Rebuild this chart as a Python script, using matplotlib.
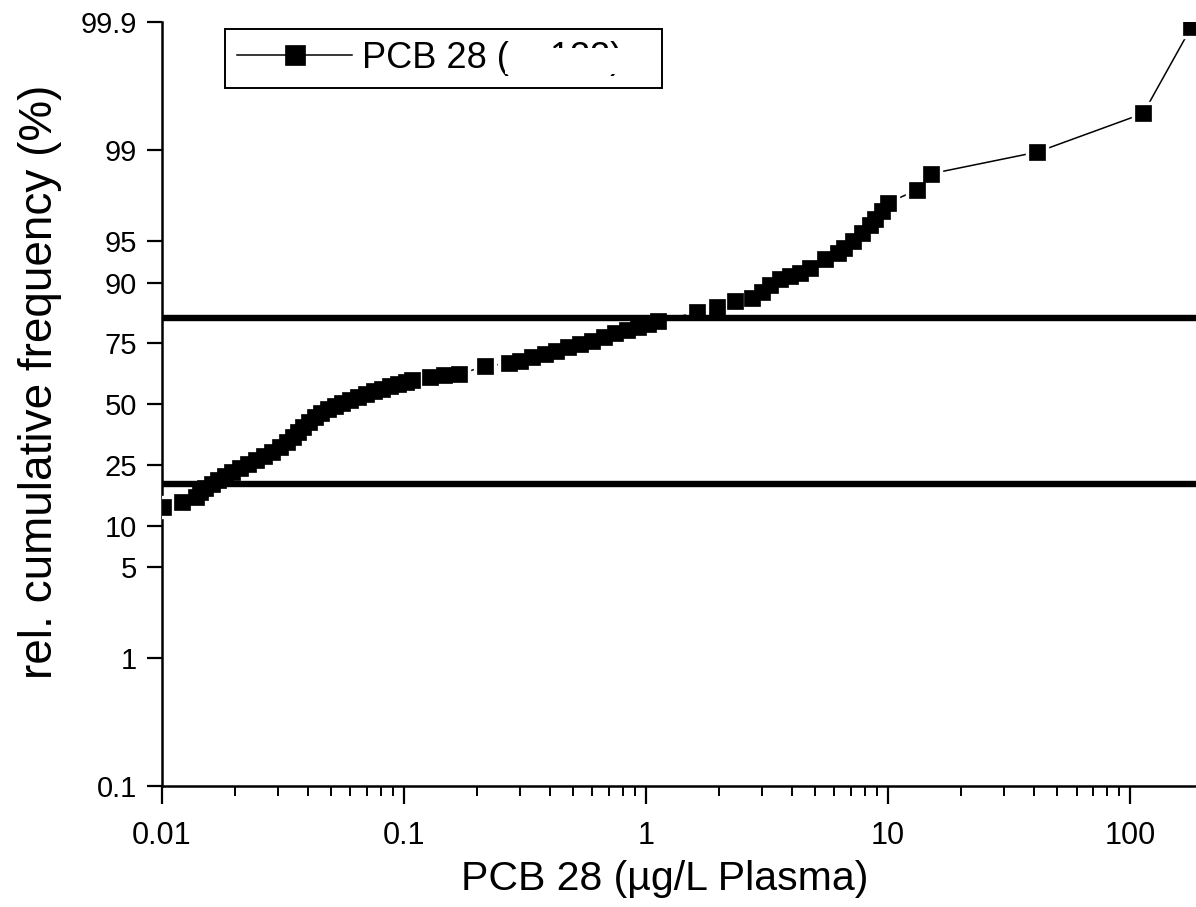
import matplotlib.pyplot as plt
from matplotlib.patches import Rectangle
from matplotlib.ticker import (FixedFormatter, FixedLocator, LogLocator,
                               NullFormatter, NullLocator)

plt.rcParams['font.family'] = ['Liberation Sans', 'DejaVu Sans']

# PCB 28 concentration (ug/L plasma) and relative cumulative frequency (%)
conc = [0.01009, 0.0121, 0.01382, 0.01436,
        0.01505, 0.01609, 0.01703, 0.01821, 0.01947, 0.02101, 0.02267, 0.02446,
        0.02639, 0.02848, 0.03073, 0.03285, 0.03478, 0.03648, 0.03825, 0.0405,
        0.04288, 0.0454, 0.04853, 0.05187, 0.05545, 0.05984, 0.06455, 0.06966,
        0.07516, 0.08111, 0.08752, 0.09445, 0.1019, 0.1079,
        0.1281, 0.1463, 0.1688, 0.2161,
        0.2716, 0.3016, 0.338, 0.3824, 0.4247, 0.4762, 0.5339, 0.5984, 0.6706,
        0.7446, 0.8346, 0.9267, 1.019, 1.121,
        1.624, 1.966, 2.333, 2.742, 3.015, 3.253, 3.578, 3.936, 4.328, 4.761,
        5.492, 6.215, 6.58, 7.169, 7.809, 8.427, 8.838, 9.445, 10.0,
        13.18, 15.06, 41.28, 113.2, 178.7]
cum_freq = [13.52, 14.60, 15.77, 17.00,
            18.04, 19.13, 20.28, 21.46, 22.70, 23.99, 25.33, 26.72,
            28.15, 29.63, 31.55, 33.53, 35.56, 37.65, 39.79, 41.96,
            44.17, 45.96, 47.75, 49.10, 50.45, 51.80, 53.15, 54.49,
            55.83, 56.71, 58.04, 58.91, 59.78, 60.65,
            61.93, 62.77, 63.19, 66.48,
            67.67, 68.45, 69.99, 71.11, 72.21, 73.63, 74.67, 75.68, 76.98,
            78.23, 79.14, 80.02, 80.87, 81.69,
            83.99, 85.17, 86.48, 87.10, 88.27, 89.51, 90.48, 90.94, 91.51, 92.06,
            93.28, 93.93, 94.42, 95.05, 95.68, 96.24, 96.61, 97.06, 97.44,
            97.96, 98.47, 98.96, 99.48, 99.89]

ref_levels = [19.1, 82.5]

y_ticks = [0.1, 1, 5, 10, 25, 50, 75, 90, 95, 99, 99.9]
y_labels = ['0.1', '1', '5', '10', '25', '50', '75', '90', '95', '99', '99.9']
x_ticks = [0.01, 0.1, 1, 10, 100]
x_labels = ['0.01', '0.1', '1', '10', '100']

series_label = 'PCB 28 (n=133)'

fig = plt.figure(figsize=(11.96, 9.07), dpi=100)
ax = fig.add_axes([0.1355, 0.1334, 0.8645, 0.8423])
ax.set_xscale('log')
ax.set_yscale('logit')

frac = [p / 100 for p in cum_freq]

# line below, white halo to open small gaps round the symbols, then symbols
line, = ax.plot(conc, frac, color='black', lw=1.1, zorder=2)
ax.plot(conc, frac, ls='none', marker='s', ms=15.5, mfc='white', mec='white', zorder=3)
marks, = ax.plot(conc, frac, ls='none', marker='s', ms=11.5, mfc='black', mec='black',
                 mew=0.5, zorder=4)

for level in ref_levels:
    ax.axhline(level / 100, color='black', lw=4.6, zorder=5)

ax.set_xlim(0.01, 187)
ax.set_ylim(0.001, 0.999)

ax.yaxis.set_major_locator(FixedLocator([t / 100 for t in y_ticks]))
ax.yaxis.set_major_formatter(FixedFormatter(y_labels))
ax.yaxis.set_minor_locator(NullLocator())
ax.xaxis.set_major_locator(FixedLocator(x_ticks))
ax.xaxis.set_major_formatter(FixedFormatter(x_labels))
ax.xaxis.set_minor_locator(LogLocator(base=10, subs=range(2, 10)))
ax.xaxis.set_minor_formatter(NullFormatter())

ax.tick_params(axis='y', which='major', direction='out', length=11, width=1.6,
               labelsize=21, pad=7)
ax.tick_params(axis='x', which='major', direction='out', length=13, width=1.6,
               labelsize=22, pad=12)
ax.tick_params(which='minor', direction='out', length=7, width=1.4)
for side in ['top', 'right']:
    ax.spines[side].set_visible(False)
for side in ['left', 'bottom']:
    ax.spines[side].set_linewidth(1.8)

ax.set_xlabel('PCB 28 (µg/L Plasma)', fontsize=29.5)
ax.set_ylabel('rel. cumulative frequency (%)', fontsize=33)
ax.xaxis.set_label_coords(0.4865, -0.097)
ax.yaxis.set_label_coords(-0.097, 0.529)

leg = ax.legend([(line, marks)], [series_label], loc='upper left',
                bbox_to_anchor=(225 / 1196, 1 - 29 / 907, (662 - 225) / 1196, 0),
                bbox_transform=fig.transFigure, mode='expand', borderaxespad=0,
                fancybox=False, edgecolor='black', framealpha=1, fontsize=26,
                handlelength=3.2, handletextpad=0.25, borderpad=0.33, markerscale=1.25)
leg.get_frame().set_linewidth(1.4)

# the sample size in the legend is blanked out in the original
fig.add_artist(Rectangle((505 / 1196, 1 - 74 / 907), 135 / 1196, 26 / 907,
                         transform=fig.transFigure, facecolor='white', edgecolor='none'))

fig.savefig('out.png', dpi=100)
